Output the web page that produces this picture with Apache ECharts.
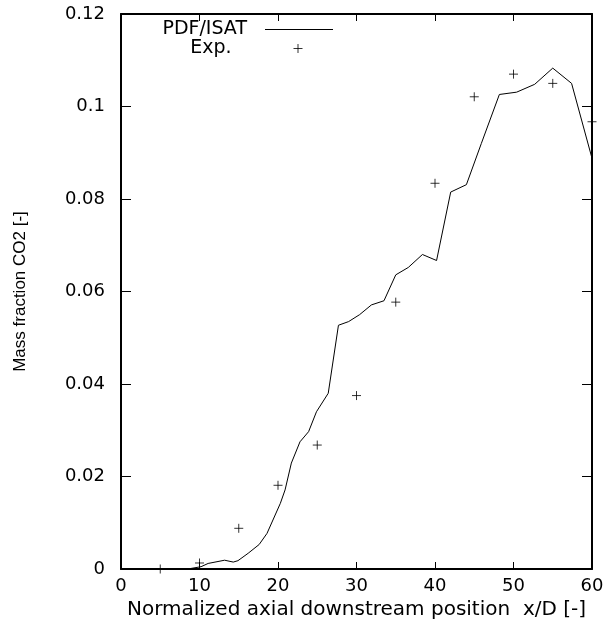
<!DOCTYPE html>
<html>
<head>
<meta charset="utf-8">
<script src="https://cdn.jsdelivr.net/npm/echarts@6/dist/echarts.min.js"></script>
<style>
  html, body { margin: 0; padding: 0; background: #fff; }
  #main { width: 603px; height: 624px; }
</style>
</head>
<body>
<div id="main"></div>
<script>
// PDF/ISAT curve (x/D, mass fraction CO2)
var simX = [0, 5, 8.5, 10.2, 11.1, 13.2, 14.3, 14.9, 16.2, 17.6, 18.6, 20.3, 20.9, 21.7, 22.8, 23.9, 24.9, 26.4, 27.7,
    29.0, 30.4, 31.9, 33.5, 35.0, 36.6, 38.4, 40.2, 42.0, 44.0, 45.9, 48.2, 50.4, 52.7, 55.0, 57.4, 60];
var simY = [0, 0, 0, 0.0005, 0.0012, 0.0019, 0.0015, 0.0018, 0.0034, 0.0053, 0.0077, 0.0142, 0.0171, 0.0229, 0.0275,
    0.0297, 0.034, 0.038, 0.0527, 0.0535, 0.055, 0.0571, 0.058, 0.0636, 0.0652, 0.068, 0.0667, 0.0815, 0.0831,
    0.092, 0.1026, 0.1031, 0.1048, 0.1083, 0.105, 0.0888];

// experiment points
var expX = [5, 10, 15, 20, 25, 30, 35, 40, 45, 50, 55, 60];
var expY = [0, 0.0013, 0.0088, 0.0181, 0.0268, 0.0375, 0.0577, 0.0834, 0.1021, 0.107, 0.105, 0.0967];

var xTickLabels = ['0', '10', '20', '30', '40', '50', '60'];
var yTickLabels = ['0', '0.02', '0.04', '0.06', '0.08', '0.1', '0.12'];

var simData = simX.map(function (x, i) { return [x, simY[i]]; });
var expData = expX.map(function (x, i) { return [x, expY[i]]; });

var plus = 'path://M0,5L10,5M5,0L5,10';
var lblFont = 'DejaVu Sans';

var myChart = echarts.init(document.getElementById('main'));

var option = {
    animation: false,
    backgroundColor: '#fff',
    grid: { left: 121, right: 11, top: 14, bottom: 55, outerBoundsMode: 'none' },
    legend: [{
        data: ['PDF/ISAT'],
        orient: 'vertical',
        align: 'right',
        right: 265,
        top: 15,
        icon: 'rect',
        itemWidth: 68,
        itemHeight: 1,
        textStyle: { fontFamily: lblFont, fontSize: 19, color: '#000', padding: [0, 13, 0, 0] }
    }, {
        data: ['Exp.'],
        orient: 'vertical',
        align: 'right',
        right: 295,
        top: 34,
        itemWidth: 9,
        itemHeight: 9,
        itemStyle: { color: 'transparent', borderColor: '#000', borderWidth: 1 },
        textStyle: { fontFamily: lblFont, fontSize: 19, color: '#000', padding: [0, 57, 0, 0] }
    }],
    xAxis: [{
        type: 'value',
        min: 0, max: 60, interval: 10,
        position: 'bottom',
        name: 'Normalized axial downstream position  x/D [-]',
        nameLocation: 'middle',
        nameGap: 31,
        nameTextStyle: { fontFamily: lblFont, fontSize: 20, color: '#000' },
        axisLine: { onZero: false, lineStyle: { color: '#000', width: 2 } },
        axisTick: { inside: true, length: 7, lineStyle: { color: '#000', width: 1 } },
        axisLabel: {
            margin: 8, fontFamily: lblFont, fontSize: 18, color: '#000',
            formatter: function (v) { return xTickLabels[Math.round(v / 10)]; }
        },
        splitLine: { show: false }
    }, {
        type: 'value',
        min: 0, max: 60, interval: 10,
        position: 'top',
        axisLine: { onZero: false, lineStyle: { color: '#000', width: 2 } },
        axisTick: { inside: true, length: 7, lineStyle: { color: '#000', width: 1 } },
        axisLabel: { show: false },
        splitLine: { show: false }
    }],
    yAxis: [{
        type: 'value',
        min: 0, max: 0.12, interval: 0.02,
        position: 'left',
        name: 'Mass fraction CO2 [-]',
        nameLocation: 'middle',
        nameGap: 92,
        nameTextStyle: { fontFamily: 'Liberation Sans', fontSize: 17, color: '#000' },
        axisLine: { onZero: false, lineStyle: { color: '#000', width: 2 } },
        axisTick: { inside: true, length: 10, lineStyle: { color: '#000', width: 1 } },
        axisLabel: {
            margin: 16, fontFamily: lblFont, fontSize: 18, color: '#000',
            formatter: function (v) { return yTickLabels[Math.round(v / 0.02)]; }
        },
        splitLine: { show: false }
    }, {
        type: 'value',
        min: 0, max: 0.12, interval: 0.02,
        position: 'right',
        axisLine: { onZero: false, lineStyle: { color: '#000', width: 2 } },
        axisTick: { inside: true, length: 10, lineStyle: { color: '#000', width: 1 } },
        axisLabel: { show: false },
        splitLine: { show: false }
    }],
    series: [{
        name: 'PDF/ISAT',
        type: 'line',
        data: simData,
        symbol: 'none',
        lineStyle: { color: '#000', width: 1 },
        itemStyle: { color: '#000' },
        z: 3
    }, {
        name: 'Exp.',
        type: 'scatter',
        data: expData,
        symbol: plus,
        symbolSize: 9,
        clip: false,
        itemStyle: { color: 'transparent', borderColor: '#000', borderWidth: 1 },
        z: 4
    }]
};

myChart.setOption(option);

window.addEventListener('resize', function () {
    myChart.resize();
});
</script>
</body>
</html>
